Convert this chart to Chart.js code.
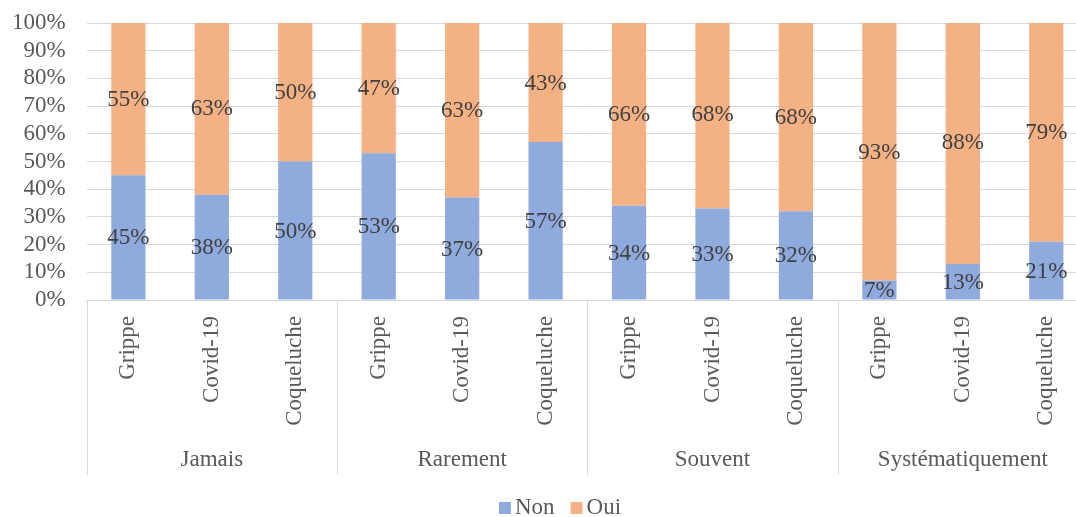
<!DOCTYPE html>
<html>
<head>
<meta charset="utf-8">
<script src="https://cdn.jsdelivr.net/npm/chart.js@4.4.0/dist/chart.umd.min.js"></script>
<style>
  html, body { margin: 0; padding: 0; background: #fff; overflow: hidden; }
  #wrap { width: 1100px; height: 517px; }
</style>
</head>
<body>
<div id="wrap"><canvas id="chart" width="1100" height="517"></canvas></div>
<script>
// Data
const groups = ['Jamais', 'Rarement', 'Souvent', 'Systématiquement'];
const vaccines = ['Grippe', 'Covid-19', 'Coqueluche'];
const categories = ['Grippe', 'Covid-19', 'Coqueluche', 'Grippe', 'Covid-19', 'Coqueluche',
                    'Grippe', 'Covid-19', 'Coqueluche', 'Grippe', 'Covid-19', 'Coqueluche'];
const nonValues = [45, 38, 50, 53, 37, 57, 34, 33, 32, 7, 13, 21];
const ouiValues = [55, 63, 50, 47, 63, 43, 66, 68, 68, 93, 88, 79];
const yTicks = [0, 10, 20, 30, 40, 50, 60, 70, 80, 90, 100];

const FONT = '"Liberation Serif", "Times New Roman", serif';
const FSIZE = 23;
const BLUE = '#8FAADC';
const ORANGE = '#F4B183';
const GRID = '#d9d9d9';

// Draws value labels, the two-level category axis and the legend
const extrasPlugin = {
    id: 'extras',
    afterDatasetsDraw(chart) {
        const ctx = chart.ctx;
        const xs = chart.scales.x;
        const area = chart.chartArea;
        ctx.save();

        // value labels in the middle of each segment
        ctx.font = FSIZE + 'px ' + FONT;
        ctx.fillStyle = '#404040';
        ctx.textAlign = 'center';
        ctx.textBaseline = 'middle';
        chart.data.datasets.forEach((ds, di) => {
            const meta = chart.getDatasetMeta(di);
            meta.data.forEach((bar, i) => {
                const p = bar.getProps(['x', 'y', 'base'], true);
                ctx.fillText(ds.data[i] + '%', p.x, (p.y + p.base) / 2 + 1);
            });
        });

        // group separators
        ctx.strokeStyle = GRID;
        ctx.lineWidth = 1;
        const per = vaccines.length;
        for (let g = 0; g <= groups.length; g++) {
            let x;
            if (g === 0) x = area.left;
            else if (g === groups.length) x = area.right;
            else x = (xs.getPixelForValue(g * per - 1) + xs.getPixelForValue(g * per)) / 2;
            x = Math.round(x) + 0.5;
            ctx.beginPath();
            ctx.moveTo(x, area.bottom);
            ctx.lineTo(x, area.bottom + 175);
            ctx.stroke();
        }

        // rotated category labels
        ctx.fillStyle = '#595959';
        categories.forEach((label, i) => {
            const px = xs.getPixelForValue(i);
            ctx.save();
            ctx.translate(px, area.bottom + 16);
            ctx.rotate(-Math.PI / 2);
            ctx.textAlign = 'right';
            ctx.textBaseline = 'middle';
            ctx.fillText(label, 0, 0);
            ctx.restore();
        });

        // group labels
        ctx.textAlign = 'center';
        ctx.textBaseline = 'middle';
        groups.forEach((g, gi) => {
            const cx = (xs.getPixelForValue(gi * per) + xs.getPixelForValue(gi * per + per - 1)) / 2;
            ctx.fillText(g, cx, area.bottom + 160);
        });

        // legend
        const items = [{ text: 'Non', color: BLUE }, { text: 'Oui', color: ORANGE }];
        const box = 12, gap = 4, spacing = 16;
        let total = 0;
        items.forEach((it, k) => {
            it.w = ctx.measureText(it.text).width;
            total += box + gap + it.w + (k ? spacing : 0);
        });
        let lx = 560 - total / 2;
        const ly = 508;
        ctx.textAlign = 'left';
        items.forEach((it, k) => {
            if (k) lx += spacing;
            ctx.fillStyle = it.color;
            ctx.fillRect(lx, ly - box / 2, box, box);
            lx += box + gap;
            ctx.fillStyle = '#595959';
            ctx.fillText(it.text, lx, ly);
            lx += it.w;
        });

        ctx.restore();
    }
};

const ctx = document.getElementById('chart').getContext('2d');
new Chart(ctx, {
    type: 'bar',
    data: {
        labels: categories,
        datasets: [
            { label: 'Non', data: nonValues, backgroundColor: BLUE, borderWidth: 0 },
            { label: 'Oui', data: ouiValues, backgroundColor: ORANGE, borderWidth: 0 }
        ]
    },
    options: {
        responsive: false,
        animation: false,
        layout: { padding: { left: -9, right: 12, top: 23, bottom: 0 } },
        datasets: { bar: { categoryPercentage: 1, barPercentage: 0.41 } },
        scales: {
            x: {
                stacked: true,
                grid: { display: false },
                border: { display: true, color: GRID, width: 1 },
                ticks: { display: false },
                afterFit(scale) { scale.height = 217; }
            },
            y: {
                stacked: true,
                min: 0,
                max: 100,
                afterBuildTicks(scale) { scale.ticks = yTicks.map(v => ({ value: v })); },
                afterFit(scale) { scale.paddingTop = 0; scale.paddingBottom = 0; },
                grid: { color: GRID, lineWidth: 1, drawTicks: false },
                border: { display: false },
                ticks: {
                    autoSkip: false,
                    padding: 21,
                    color: '#595959',
                    font: { family: FONT, size: FSIZE },
                    callback: v => v + '%'
                }
            }
        },
        plugins: {
            legend: { display: false },
            tooltip: { enabled: false }
        }
    },
    plugins: [extrasPlugin]
});
</script>
</body>
</html>
